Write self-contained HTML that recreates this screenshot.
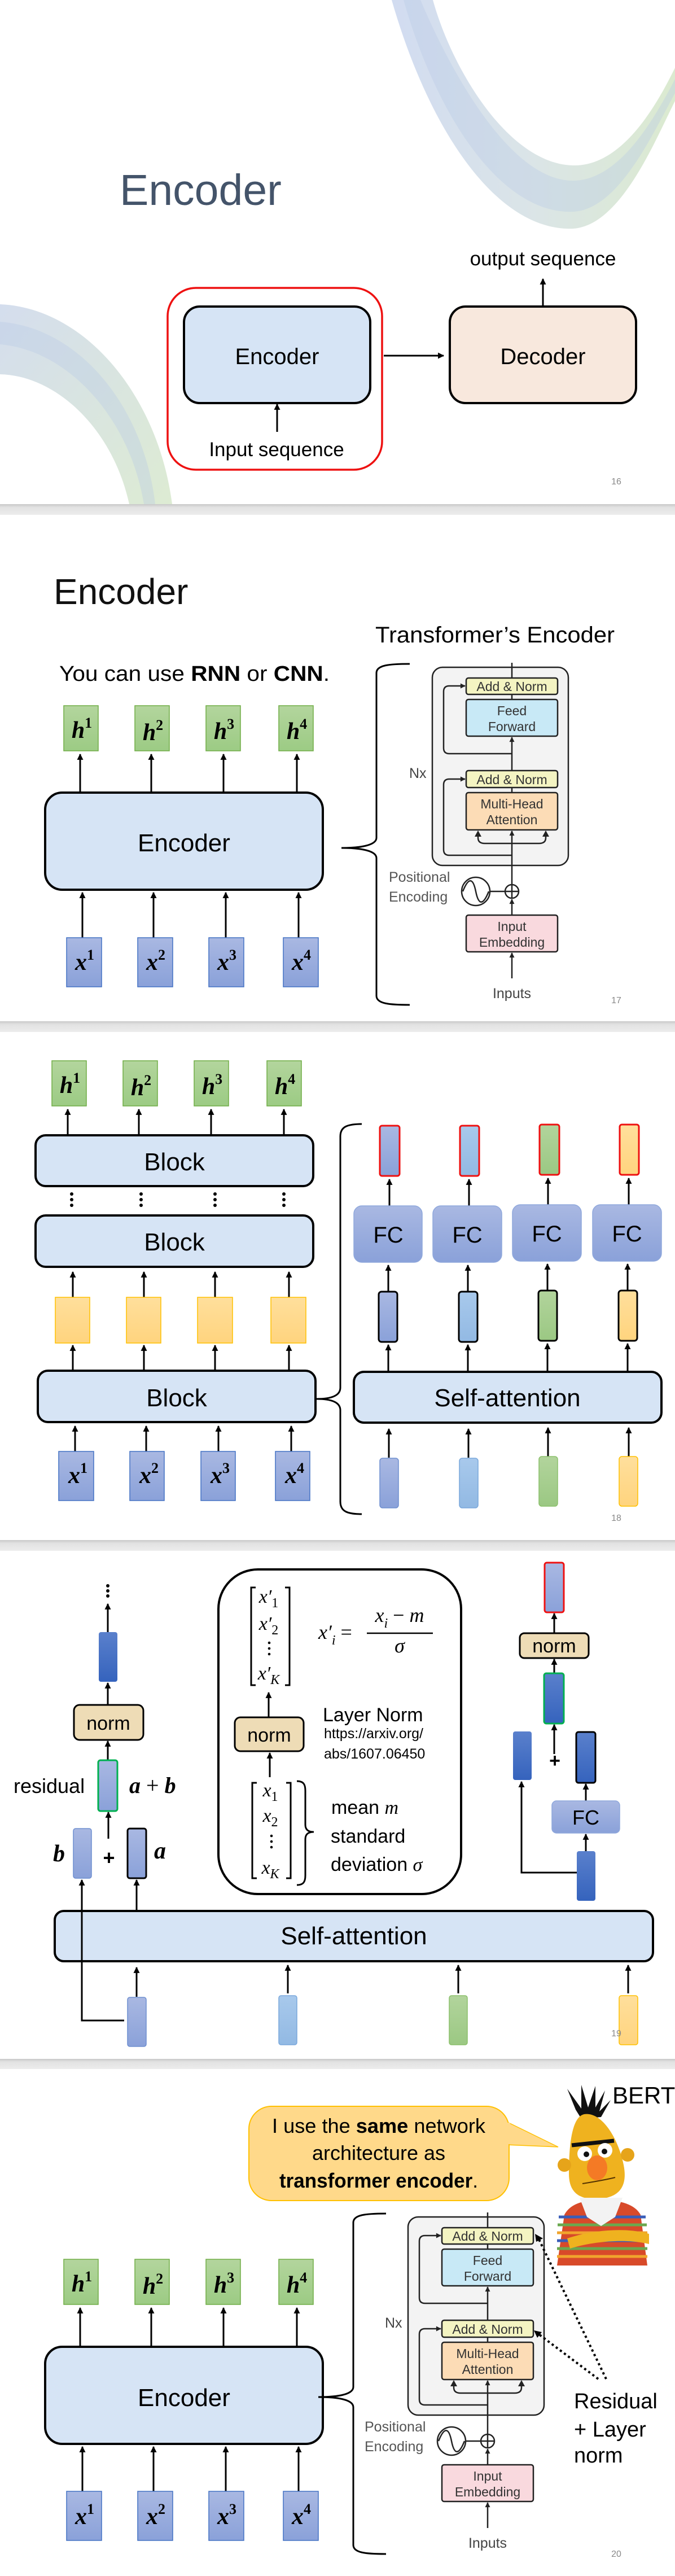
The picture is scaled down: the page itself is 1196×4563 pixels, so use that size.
<!DOCTYPE html>
<html><head><meta charset="utf-8"><style>
html,body{margin:0;padding:0;background:#fff}
svg{display:block}
.t{font-family:"Liberation Sans",sans-serif}
.m{font-family:"Liberation Serif",serif;font-style:italic;font-weight:bold}
.mi{font-family:"Liberation Serif",serif;font-style:italic}
.ar{stroke:#000;stroke-width:3;marker-end:url(#a);fill:none}
.ln{stroke:#000;stroke-width:3;fill:none}
.tl{stroke:#222;stroke-width:2.5;fill:none}
.tar{stroke:#222;stroke-width:2.5;fill:none;marker-end:url(#as)}
.tt{font-family:"Liberation Sans",sans-serif;fill:#333;font-size:23px;text-anchor:middle}
</style></head><body>
<svg width="1196" height="4563" viewBox="0 0 1196 4563" xmlns="http://www.w3.org/2000/svg">
<defs>
<marker id="a" viewBox="0 0 10 10" refX="9" refY="5" markerWidth="12" markerHeight="11" markerUnits="userSpaceOnUse" orient="auto"><path d="M0,0 L10,5 L0,10 z" fill="#000"/></marker>
<marker id="as" viewBox="0 0 10 10" refX="9" refY="5" markerWidth="10" markerHeight="9" markerUnits="userSpaceOnUse" orient="auto"><path d="M0,0 L10,5 L0,10 z" fill="#222"/></marker>
<linearGradient id="sw" x1="0" y1="0" x2="1" y2="0"><stop offset="0" stop-color="#c2d0ec"/><stop offset="0.5" stop-color="#cfdcdf"/><stop offset="1" stop-color="#cfe3c0"/></linearGradient>
<linearGradient id="sw2" x1="0" y1="0" x2="1" y2="1"><stop offset="0" stop-color="#c6d2e8"/><stop offset="1" stop-color="#d2e5c4"/></linearGradient>
<linearGradient id="bd" x1="0" y1="0" x2="0" y2="1"><stop offset="0" stop-color="#c8c8c8"/><stop offset="0.3" stop-color="#e2e2e2"/><stop offset="1" stop-color="#ececec"/></linearGradient>
<linearGradient id="gb" x1="0" y1="0" x2="0" y2="1"><stop offset="0" stop-color="#a9b8e2"/><stop offset="1" stop-color="#8aa1d9"/></linearGradient>
<linearGradient id="gd" x1="0" y1="0" x2="0" y2="1"><stop offset="0" stop-color="#5a80cc"/><stop offset="1" stop-color="#3563bd"/></linearGradient>
<linearGradient id="gl" x1="0" y1="0" x2="0" y2="1"><stop offset="0" stop-color="#a8c9ec"/><stop offset="1" stop-color="#92b9e3"/></linearGradient>
<linearGradient id="gg" x1="0" y1="0" x2="0" y2="1"><stop offset="0" stop-color="#b2d49c"/><stop offset="1" stop-color="#9bc883"/></linearGradient>
<linearGradient id="gy" x1="0" y1="0" x2="0" y2="1"><stop offset="0" stop-color="#ffdf9c"/><stop offset="1" stop-color="#ffd47e"/></linearGradient>
<linearGradient id="gh" x1="0" y1="0" x2="0" y2="1"><stop offset="0" stop-color="#b3d59d"/><stop offset="1" stop-color="#9ccb84"/></linearGradient>
</defs>

<rect x="0" y="893" width="1196" height="19" fill="url(#bd)"/>
<rect x="0" y="1809" width="1196" height="19" fill="url(#bd)"/>
<rect x="0" y="2728" width="1196" height="19" fill="url(#bd)"/>
<rect x="0" y="3647" width="1196" height="18" fill="url(#bd)"/>

<!-- ============ SLIDE 1 ============ -->
<g>
<path d="M694,0 C760,230 880,410 1015,405 C1100,400 1160,250 1196,179 L1196,120 C1150,215 1090,295 1015,293 C900,290 800,120 767,0 Z" fill="url(#sw)" opacity="0.75"/>
<path d="M715,0 C775,210 890,380 1015,375 C1095,372 1155,240 1196,165 L1196,140 C1150,230 1090,320 1015,320 C905,320 800,130 745,0 Z" fill="#b8c9e6" opacity="0.35"/>
<path d="M0,539 C150,545 280,700 305,893 L229,893 C200,760 100,665 0,663 Z" fill="url(#sw2)" opacity="0.75"/>
<path d="M0,570 C140,580 255,720 275,893 L255,893 C230,740 120,620 0,610 Z" fill="#b7c8e4" opacity="0.35"/>
<text class="t" x="212" y="363" font-size="77" fill="#44546a">Encoder</text>
<rect x="297" y="510" width="380" height="322" rx="50" fill="none" stroke="#ee1111" stroke-width="3.5"/>
<rect x="326" y="543" width="330" height="171" rx="28" fill="#d6e4f5" stroke="#000" stroke-width="4"/>
<text class="t" x="491" y="645" font-size="40" text-anchor="middle">Encoder</text>
<line class="ar" x1="491" y1="765" x2="491" y2="716"/>
<text class="t" x="490" y="808" font-size="35" text-anchor="middle">Input sequence</text>
<line class="ar" x1="680" y1="630" x2="786" y2="630"/>
<rect x="797" y="543" width="330" height="171" rx="28" fill="#f8e8dd" stroke="#000" stroke-width="4"/>
<text class="t" x="962" y="645" font-size="40" text-anchor="middle">Decoder</text>
<line class="ar" x1="962" y1="543" x2="962" y2="494"/>
<text class="t" x="962" y="470" font-size="35" text-anchor="middle">output sequence</text>
<text class="t" x="1092" y="858" font-size="16" fill="#888" text-anchor="middle">16</text>
</g>

<!-- ============ SLIDE 2 ============ -->
<g transform="translate(0,912)">
<text class="t" x="95" y="158" font-size="64" fill="#111">Encoder</text>
<text class="t" x="665" y="226" font-size="40" textLength="424" lengthAdjust="spacingAndGlyphs">Transformer’s Encoder</text>
<text class="t" x="105" y="294" font-size="38" textLength="479" lengthAdjust="spacingAndGlyphs">You can use <tspan font-weight="bold">RNN</tspan> or <tspan font-weight="bold">CNN</tspan>.</text>
<g fill="url(#gh)" stroke="#70ad47" stroke-width="1.5">
<rect x="113" y="338" width="61" height="80"/><rect x="239" y="338" width="61" height="80"/><rect x="365" y="338" width="61" height="80"/><rect x="494" y="338" width="61" height="80"/>
</g>
<g class="m" font-size="42" text-anchor="middle">
<text x="145" y="395">h<tspan font-size="26" font-style="normal" dy="-18">1</tspan></text>
<text x="271" y="399">h<tspan font-size="26" font-style="normal" dy="-18">2</tspan></text>
<text x="397" y="397">h<tspan font-size="26" font-style="normal" dy="-18">3</tspan></text>
<text x="526" y="397">h<tspan font-size="26" font-style="normal" dy="-18">4</tspan></text>
</g>
<line class="ar" x1="142" y1="492" x2="142" y2="424"/><line class="ar" x1="268" y1="492" x2="268" y2="424"/><line class="ar" x1="396" y1="492" x2="396" y2="424"/><line class="ar" x1="526" y1="492" x2="526" y2="424"/>
<rect x="80" y="492" width="492" height="172" rx="30" fill="#d6e4f5" stroke="#000" stroke-width="4"/>
<text class="t" x="326" y="596" font-size="44" text-anchor="middle">Encoder</text>
<line class="ar" x1="146" y1="749" x2="146" y2="669"/><line class="ar" x1="272" y1="749" x2="272" y2="669"/><line class="ar" x1="400" y1="749" x2="400" y2="669"/><line class="ar" x1="529" y1="749" x2="529" y2="669"/>
<g fill="url(#gb)" stroke="#4472c4" stroke-width="1.5">
<rect x="118" y="749" width="62" height="87"/><rect x="244" y="749" width="62" height="87"/><rect x="370" y="749" width="62" height="87"/><rect x="502" y="749" width="62" height="87"/>
</g>
<g class="m" font-size="42" text-anchor="middle">
<text x="150" y="806">x<tspan font-size="26" font-style="normal" dy="-18">1</tspan></text>
<text x="276" y="806">x<tspan font-size="26" font-style="normal" dy="-18">2</tspan></text>
<text x="402" y="806">x<tspan font-size="26" font-style="normal" dy="-18">3</tspan></text>
<text x="534" y="806">x<tspan font-size="26" font-style="normal" dy="-18">4</tspan></text>
</g>
<path class="ln" d="M726,264 C690,264 667,266 667,280 L667,572 C667,585 640,590 605,590 C640,590 667,595 667,608 L667,852 C667,866 690,868 726,868"/>
<g transform="translate(766,270)">
<rect x="0" y="0" width="241" height="351" rx="18" fill="#f3f3f3" stroke="#222" stroke-width="2.5"/>
<line class="tl" x1="141" y1="-8" x2="141" y2="19"/>
<rect x="60" y="19" width="162" height="29" rx="4" fill="#f4f4c2" stroke="#222" stroke-width="2.5"/>
<text class="tt" x="141" y="42">Add &amp; Norm</text>
<line class="tl" x1="141" y1="48" x2="141" y2="57"/>
<rect x="60" y="57" width="162" height="65" rx="4" fill="#c8e9f6" stroke="#222" stroke-width="2.5"/>
<text class="tt" x="141" y="85">Feed</text><text class="tt" x="141" y="113">Forward</text>
<line class="tar" x1="141" y1="183" x2="141" y2="124"/>
<path class="tar" d="M141,153 H30 Q20,153 20,143 V43 Q20,33 30,33 H58"/>
<rect x="60" y="183" width="162" height="30" rx="4" fill="#f4f4c2" stroke="#222" stroke-width="2.5"/>
<text class="tt" x="141" y="207">Add &amp; Norm</text>
<line class="tl" x1="141" y1="213" x2="141" y2="222"/>
<rect x="60" y="222" width="162" height="66" rx="4" fill="#fcdcb6" stroke="#222" stroke-width="2.5"/>
<text class="tt" x="141" y="250">Multi-Head</text><text class="tt" x="141" y="278">Attention</text>
<line class="tar" x1="141" y1="385" x2="141" y2="290"/>
<path class="tl" d="M81,298 V302 Q81,312 93,312 H189 Q201,312 201,302 V298"/>
<path d="M75,300 L81,289 L87,300 Z M195,300 L201,289 L207,300 Z" fill="#222"/>
<path class="tar" d="M141,333 H30 Q20,333 20,323 V208 Q20,198 30,198 H58"/>
<circle cx="141" cy="397" r="12" fill="#fff" stroke="#222" stroke-width="2.5"/>
<path class="tl" d="M129,397 H153 M141,385 V409"/>
<circle cx="77" cy="397" r="25" fill="#fff" stroke="#222" stroke-width="2.5"/>
<path class="tl" d="M54,397 C64,372 72,372 77,397 C82,422 90,422 100,397"/>
<line class="tl" x1="102" y1="397" x2="129" y2="397"/>
<line class="tar" x1="141" y1="439" x2="141" y2="411"/>
<rect x="60" y="439" width="162" height="65" rx="4" fill="#f9d9de" stroke="#222" stroke-width="2.5"/>
<text class="tt" x="141" y="467">Input</text><text class="tt" x="141" y="495">Embedding</text>
<line class="tar" x1="141" y1="551" x2="141" y2="506"/>
<text class="t" x="141" y="586" font-size="25" fill="#444" text-anchor="middle">Inputs</text>
<text class="t" x="-77" y="380" font-size="25" fill="#555">Positional</text>
<text class="t" x="-77" y="415" font-size="25" fill="#555">Encoding</text>
<text class="t" x="-41" y="196" font-size="25" fill="#444">Nx</text>
</g>
<text class="t" x="1092" y="865" font-size="16" fill="#888" text-anchor="middle">17</text>
</g>

<!-- ============ SLIDE 3 ============ -->
<g transform="translate(0,1828)">
<g fill="url(#gh)" stroke="#70ad47" stroke-width="1.5">
<rect x="92" y="51" width="61" height="80"/><rect x="218" y="51" width="61" height="80"/><rect x="344" y="51" width="61" height="80"/><rect x="473" y="51" width="61" height="80"/>
</g>
<g class="m" font-size="42" text-anchor="middle">
<text x="124" y="108">h<tspan font-size="26" font-style="normal" dy="-18">1</tspan></text>
<text x="250" y="112">h<tspan font-size="26" font-style="normal" dy="-18">2</tspan></text>
<text x="376" y="110">h<tspan font-size="26" font-style="normal" dy="-18">3</tspan></text>
<text x="505" y="110">h<tspan font-size="26" font-style="normal" dy="-18">4</tspan></text>
</g>
<line class="ar" x1="120" y1="183" x2="120" y2="137"/><line class="ar" x1="246" y1="183" x2="246" y2="137"/><line class="ar" x1="374" y1="183" x2="374" y2="137"/><line class="ar" x1="503" y1="183" x2="503" y2="137"/>
<rect x="63" y="183" width="492" height="90" rx="18" fill="#d6e4f5" stroke="#000" stroke-width="4"/>
<text class="t" x="309" y="245" font-size="44" text-anchor="middle">Block</text>
<g fill="#000"><circle cx="127" cy="287" r="3"/><circle cx="127" cy="297" r="3"/><circle cx="127" cy="307" r="3"/>
<circle cx="250" cy="287" r="3"/><circle cx="250" cy="297" r="3"/><circle cx="250" cy="307" r="3"/>
<circle cx="381" cy="287" r="3"/><circle cx="381" cy="297" r="3"/><circle cx="381" cy="307" r="3"/>
<circle cx="503" cy="287" r="3"/><circle cx="503" cy="297" r="3"/><circle cx="503" cy="307" r="3"/></g>
<rect x="63" y="325" width="492" height="91" rx="18" fill="#d6e4f5" stroke="#000" stroke-width="4"/>
<text class="t" x="309" y="387" font-size="44" text-anchor="middle">Block</text>
<line class="ar" x1="129" y1="470" x2="129" y2="425"/><line class="ar" x1="255" y1="470" x2="255" y2="425"/><line class="ar" x1="381" y1="470" x2="381" y2="425"/><line class="ar" x1="512" y1="470" x2="512" y2="425"/>
<g fill="url(#gy)" stroke="#ffc000" stroke-width="1.5">
<rect x="98" y="470" width="61" height="81"/><rect x="224" y="470" width="61" height="81"/><rect x="350" y="470" width="62" height="81"/><rect x="480" y="470" width="62" height="81"/>
</g>
<line class="ar" x1="129" y1="600" x2="129" y2="555"/><line class="ar" x1="255" y1="600" x2="255" y2="555"/><line class="ar" x1="381" y1="600" x2="381" y2="555"/><line class="ar" x1="512" y1="600" x2="512" y2="555"/>
<rect x="67" y="600" width="492" height="91" rx="18" fill="#d6e4f5" stroke="#000" stroke-width="4"/>
<text class="t" x="313" y="663" font-size="44" text-anchor="middle">Block</text>
<line class="ar" x1="133" y1="743" x2="133" y2="698"/><line class="ar" x1="259" y1="743" x2="259" y2="698"/><line class="ar" x1="387" y1="743" x2="387" y2="698"/><line class="ar" x1="516" y1="743" x2="516" y2="698"/>
<g fill="url(#gb)" stroke="#4472c4" stroke-width="1.5">
<rect x="104" y="743" width="62" height="87"/><rect x="230" y="743" width="61" height="87"/><rect x="356" y="743" width="61" height="87"/><rect x="488" y="743" width="61" height="87"/>
</g>
<g class="m" font-size="42" text-anchor="middle">
<text x="138" y="799">x<tspan font-size="26" font-style="normal" dy="-18">1</tspan></text>
<text x="264" y="799">x<tspan font-size="26" font-style="normal" dy="-18">2</tspan></text>
<text x="390" y="799">x<tspan font-size="26" font-style="normal" dy="-18">3</tspan></text>
<text x="522" y="799">x<tspan font-size="26" font-style="normal" dy="-18">4</tspan></text>
</g>
<path class="ln" d="M641,163 C615,163 603,168 603,185 L603,630 C603,645 585,650 561,650 C585,650 603,655 603,670 L603,832 C603,849 615,854 641,854"/>
<rect x="673" y="166" width="35" height="89" rx="4" fill="url(#gb)" stroke="#ee1111" stroke-width="3"/>
<rect x="815" y="166" width="34" height="89" rx="4" fill="url(#gl)" stroke="#ee1111" stroke-width="3"/>
<rect x="956" y="164" width="35" height="89" rx="4" fill="url(#gg)" stroke="#ee1111" stroke-width="3"/>
<rect x="1098" y="164" width="34" height="89" rx="4" fill="url(#gy)" stroke="#ee1111" stroke-width="3"/>
<line class="ar" x1="690" y1="308" x2="690" y2="261"/><line class="ar" x1="831" y1="308" x2="831" y2="261"/><line class="ar" x1="971" y1="306" x2="971" y2="259"/><line class="ar" x1="1114" y1="306" x2="1114" y2="259"/>
<g fill="url(#gb)" stroke="#8fa8dc" stroke-width="1.5">
<rect x="627" y="308" width="121" height="100" rx="14"/><rect x="767" y="308" width="122" height="100" rx="14"/><rect x="908" y="306" width="122" height="100" rx="14"/><rect x="1050" y="306" width="122" height="100" rx="14"/>
</g>
<g class="t" font-size="40" text-anchor="middle"><text x="688" y="373">FC</text><text x="828" y="373">FC</text><text x="969" y="371">FC</text><text x="1111" y="371">FC</text></g>
<line class="ar" x1="688" y1="460" x2="688" y2="413"/><line class="ar" x1="829" y1="460" x2="829" y2="413"/><line class="ar" x1="970" y1="458" x2="970" y2="411"/><line class="ar" x1="1112" y1="458" x2="1112" y2="411"/>
<rect x="671" y="460" width="33" height="89" rx="5" fill="url(#gb)" stroke="#000" stroke-width="3"/>
<rect x="813" y="460" width="33" height="89" rx="5" fill="url(#gl)" stroke="#000" stroke-width="3"/>
<rect x="954" y="458" width="33" height="89" rx="5" fill="url(#gg)" stroke="#000" stroke-width="3"/>
<rect x="1096" y="458" width="33" height="89" rx="5" fill="url(#gy)" stroke="#000" stroke-width="3"/>
<line class="ar" x1="688" y1="602" x2="688" y2="554"/><line class="ar" x1="829" y1="602" x2="829" y2="554"/><line class="ar" x1="970" y1="600" x2="970" y2="552"/><line class="ar" x1="1112" y1="600" x2="1112" y2="552"/>
<rect x="627" y="602" width="545" height="90" rx="18" fill="#d6e4f5" stroke="#000" stroke-width="4"/>
<text class="t" x="899" y="663" font-size="44" text-anchor="middle">Self-attention</text>
<line class="ar" x1="689" y1="754" x2="689" y2="703"/><line class="ar" x1="830" y1="754" x2="830" y2="703"/><line class="ar" x1="971" y1="752" x2="971" y2="701"/><line class="ar" x1="1114" y1="752" x2="1114" y2="701"/>
<rect x="673" y="755" width="33" height="88" rx="5" fill="url(#gb)" stroke="#6f8fd0" stroke-width="1.5"/>
<rect x="814" y="755" width="33" height="88" rx="5" fill="url(#gl)" stroke="#7aa8dc" stroke-width="1.5"/>
<rect x="955" y="752" width="33" height="88" rx="5" fill="url(#gg)" stroke="#8cc06c" stroke-width="1.5"/>
<rect x="1097" y="752" width="33" height="88" rx="5" fill="url(#gy)" stroke="#ffc000" stroke-width="1.5"/>
<text class="t" x="1092" y="866" font-size="16" fill="#888" text-anchor="middle">18</text>
</g>

<!-- ============ SLIDE 4 ============ -->
<g transform="translate(0,2747)">
<g fill="#000"><circle cx="191" cy="62" r="3"/><circle cx="191" cy="71" r="3"/><circle cx="191" cy="80" r="3"/></g>
<line class="ar" x1="191" y1="144" x2="191" y2="94"/>
<rect x="175" y="144" width="33" height="88" rx="4" fill="url(#gd)"/>
<line class="ar" x1="191" y1="273" x2="191" y2="234"/>
<rect x="131" y="273" width="123" height="62" rx="10" fill="#eedcb6" stroke="#000" stroke-width="3"/>
<text class="t" x="192" y="317" font-size="34" text-anchor="middle">norm</text>
<line class="ar" x1="191" y1="371" x2="191" y2="337"/>
<rect x="174" y="371" width="34" height="90" rx="4" fill="url(#gb)" stroke="#00b050" stroke-width="3"/>
<text class="t" x="24" y="429" font-size="36">residual</text>
<text class="m" x="229" y="429" font-size="40">a<tspan font-style="normal" font-weight="normal"> + </tspan>b</text>
<line class="ar" x1="192" y1="510" x2="192" y2="463"/>
<rect x="130" y="492" width="32" height="88" rx="4" fill="url(#gb)" stroke="#6f8fd0" stroke-width="1.5"/>
<text class="m" x="94" y="550" font-size="42">b</text>
<text class="t" x="193" y="556" font-size="36" font-weight="bold" text-anchor="middle">+</text>
<rect x="226" y="492" width="33" height="88" rx="4" fill="url(#gb)" stroke="#000" stroke-width="3"/>
<text class="m" x="273" y="545" font-size="42">a</text>
<line class="ar" x1="242" y1="638" x2="242" y2="583"/>
<path class="ar" d="M220,832 H145 V583"/>
<rect x="97" y="638" width="1060" height="89" rx="16" fill="#d6e4f5" stroke="#000" stroke-width="4"/>
<line class="ln" x1="145" y1="640" x2="145" y2="725"/>
<text class="t" x="627" y="697" font-size="44" text-anchor="middle">Self-attention</text>
<line class="ar" x1="242" y1="790" x2="242" y2="738"/><line class="ar" x1="510" y1="784" x2="510" y2="734"/><line class="ar" x1="812" y1="784" x2="812" y2="734"/><line class="ar" x1="1113" y1="784" x2="1113" y2="734"/>
<rect x="226" y="791" width="33" height="87" rx="4" fill="url(#gb)" stroke="#6f8fd0" stroke-width="1.5"/>
<rect x="494" y="788" width="32" height="87" rx="4" fill="url(#gl)" stroke="#7aa8dc" stroke-width="1.5"/>
<rect x="796" y="788" width="32" height="87" rx="4" fill="url(#gg)" stroke="#8cc06c" stroke-width="1.5"/>
<rect x="1097" y="788" width="33" height="87" rx="4" fill="url(#gy)" stroke="#ffc000" stroke-width="1.5"/>
<rect x="387" y="33" width="430" height="575" rx="70" fill="#fff" stroke="#000" stroke-width="4"/>
<path class="ln" d="M453,65 H445 V238 H453 M505,65 H513 V238 H505" stroke-width="2"/>
<g class="mi" font-size="34" text-anchor="middle">
<text x="476" y="92">x′<tspan font-size="24" font-style="normal" dy="8">1</tspan></text>
<text x="476" y="140">x′<tspan font-size="24" font-style="normal" dy="8">2</tspan></text>
<text x="476" y="228">x′<tspan font-size="24" dy="8">K</tspan></text>
</g>
<g fill="#000"><circle cx="477" cy="163" r="2.3"/><circle cx="477" cy="173" r="2.3"/><circle cx="477" cy="183" r="2.3"/></g>
<text class="mi" x="564" y="156" font-size="36">x′<tspan font-size="24" dy="10">i</tspan><tspan dy="-10" font-style="normal"> =</tspan></text>
<text class="mi" x="708" y="126" font-size="36" text-anchor="middle">x<tspan font-size="24" dy="10">i</tspan><tspan dy="-10" font-style="normal"> − </tspan>m</text>
<line x1="650" y1="146" x2="767" y2="146" stroke="#000" stroke-width="2.5"/>
<text class="mi" x="708" y="180" font-size="36" text-anchor="middle">σ</text>
<line class="ar" x1="476" y1="295" x2="476" y2="251"/>
<rect x="416" y="295" width="122" height="60" rx="10" fill="#eedcb6" stroke="#000" stroke-width="3"/>
<text class="t" x="477" y="338" font-size="34" text-anchor="middle">norm</text>
<text class="t" x="572" y="302" font-size="34">Layer Norm</text>
<text class="t" x="574" y="332" font-size="25">https://arxiv.org/</text>
<text class="t" x="574" y="368" font-size="25">abs/1607.06450</text>
<line class="ar" x1="478" y1="401" x2="478" y2="358"/>
<path class="ln" d="M455,411 H447 V580 H455 M507,411 H515 V580 H507" stroke-width="2"/>
<g class="mi" font-size="34" text-anchor="middle">
<text x="479" y="435">x<tspan font-size="24" font-style="normal" dy="8">1</tspan></text>
<text x="479" y="480">x<tspan font-size="24" font-style="normal" dy="8">2</tspan></text>
<text x="479" y="572">x<tspan font-size="24" dy="8">K</tspan></text>
</g>
<g fill="#000"><circle cx="481" cy="505" r="2.3"/><circle cx="481" cy="515" r="2.3"/><circle cx="481" cy="525" r="2.3"/></g>
<path class="ln" stroke-width="2.5" d="M526,408 C538,408 541,414 541,425 L541,485 C541,494 546,498 556,498 C546,498 541,502 541,511 L541,575 C541,586 538,592 526,592"/>
<text class="t" x="587" y="466" font-size="34">mean <tspan class="mi">m</tspan></text>
<text class="t" x="586" y="517" font-size="34">standard</text>
<text class="t" x="586" y="567" font-size="34">deviation <tspan class="mi">σ</tspan></text>
<rect x="965" y="21" width="34" height="88" rx="4" fill="url(#gb)" stroke="#ee1111" stroke-width="3"/>
<line class="ar" x1="982" y1="146" x2="982" y2="111"/>
<rect x="921" y="146" width="122" height="44" rx="8" fill="#eedcb6" stroke="#000" stroke-width="3"/>
<text class="t" x="982" y="180" font-size="34" text-anchor="middle">norm</text>
<line class="ar" x1="982" y1="217" x2="982" y2="192"/>
<rect x="964" y="217" width="35" height="89" rx="4" fill="url(#gd)" stroke="#00b050" stroke-width="3"/>
<line class="ar" x1="982" y1="360" x2="982" y2="308"/>
<text class="t" x="983" y="383" font-size="34" font-weight="bold" text-anchor="middle">+</text>
<rect x="909" y="320" width="33" height="86" rx="4" fill="url(#gd)"/>
<rect x="1021" y="321" width="34" height="90" rx="4" fill="url(#gd)" stroke="#000" stroke-width="3"/>
<line class="ar" x1="1038" y1="443" x2="1038" y2="413"/>
<rect x="978" y="443" width="120" height="57" rx="8" fill="url(#gb)" stroke="#8fa8dc" stroke-width="1.5"/>
<text class="t" x="1038" y="485" font-size="36" text-anchor="middle">FC</text>
<line class="ar" x1="1038" y1="532" x2="1038" y2="502"/>
<rect x="1022" y="532" width="33" height="88" rx="4" fill="url(#gd)"/>
<path class="ar" d="M1022,570 H924 V409"/>
<text class="t" x="1092" y="860" font-size="16" fill="#888" text-anchor="middle">19</text>
</g>

<!-- ============ SLIDE 5 ============ -->
<g transform="translate(0,3665)">
<g>
<path d="M1000,40 L1020,72 L1005,35 L1030,70 L1030,28 L1042,68 L1055,30 L1055,68 L1072,38 L1062,75 L1082,55 L1065,85 L1030,88 Z" fill="#111"/>
<path d="M1035,80 C1065,75 1095,120 1105,170 C1112,205 1100,228 1060,230 C1022,232 1008,215 1008,185 C1008,140 1012,85 1035,80 Z" fill="#efb21f"/>
<circle cx="1000" cy="170" r="12" fill="#e6a41a"/><circle cx="1112" cy="152" r="12" fill="#e6a41a"/>
<path d="M1013,135 L1088,127" stroke="#111" stroke-width="7"/>
<circle cx="1036" cy="150" r="13" fill="#fff"/><circle cx="1072" cy="144" r="13" fill="#fff"/>
<circle cx="1039" cy="151" r="5" fill="#111"/><circle cx="1071" cy="146" r="5" fill="#111"/>
<ellipse cx="1058" cy="175" rx="18" ry="22" fill="#f47a25"/>
<path d="M1032,203 C1050,200 1070,197 1090,192" stroke="#553300" stroke-width="2" fill="none"/>
<path d="M1000,258 C1010,240 1030,232 1065,232 C1100,232 1125,240 1135,258 L1147,348 L987,348 Z" fill="#d84a2a"/>
<g stroke-width="5">
<line x1="990" y1="262" x2="1144" y2="262" stroke="#3a5db8"/><line x1="988" y1="276" x2="1146" y2="276" stroke="#6aa84f"/>
<line x1="987" y1="290" x2="1147" y2="290" stroke="#f1a42c"/><line x1="987" y1="304" x2="1147" y2="304" stroke="#3a5db8"/>
<line x1="987" y1="318" x2="1147" y2="318" stroke="#6aa84f"/><line x1="987" y1="332" x2="1147" y2="332" stroke="#f1a42c"/>
</g>
<path d="M1027,228 L1103,228 L1090,262 L1065,278 L1040,262 Z" fill="#f3f3f3"/>
<path d="M1005,300 C1050,285 1110,280 1150,292 L1150,310 C1110,300 1050,305 1010,318 Z" fill="#efb21f"/>
</g>
<text class="t" x="1085" y="61" font-size="42">BERT</text>
<path d="M895,92 L989,138 L895,134 Z" fill="#ffd98a" stroke="#ffc000" stroke-width="1.5"/>
<rect x="441" y="66" width="461" height="167" rx="40" fill="#ffd98a" stroke="#ffc000" stroke-width="2"/>
<rect x="890" y="95" width="14" height="38" fill="#ffd98a"/>
<g class="t" font-size="36" text-anchor="middle">
<text x="671" y="113" textLength="378" lengthAdjust="spacingAndGlyphs">I use the <tspan font-weight="bold">same</tspan> network</text>
<text x="671" y="161">architecture as</text>
<text x="671" y="210" font-weight="bold" textLength="352" lengthAdjust="spacingAndGlyphs">transformer encoder<tspan font-weight="normal">.</tspan></text>
</g>
<g fill="url(#gh)" stroke="#70ad47" stroke-width="1.5">
<rect x="113" y="337" width="61" height="80"/><rect x="239" y="337" width="61" height="80"/><rect x="365" y="337" width="61" height="80"/><rect x="494" y="337" width="61" height="80"/>
</g>
<g class="m" font-size="42" text-anchor="middle">
<text x="145" y="394">h<tspan font-size="26" font-style="normal" dy="-18">1</tspan></text>
<text x="271" y="398">h<tspan font-size="26" font-style="normal" dy="-18">2</tspan></text>
<text x="397" y="396">h<tspan font-size="26" font-style="normal" dy="-18">3</tspan></text>
<text x="526" y="396">h<tspan font-size="26" font-style="normal" dy="-18">4</tspan></text>
</g>
<line class="ar" x1="142" y1="492" x2="142" y2="423"/><line class="ar" x1="268" y1="492" x2="268" y2="423"/><line class="ar" x1="396" y1="492" x2="396" y2="423"/><line class="ar" x1="526" y1="492" x2="526" y2="423"/>
<rect x="80" y="492" width="492" height="172" rx="30" fill="#d6e4f5" stroke="#000" stroke-width="4"/>
<text class="t" x="326" y="597" font-size="44" text-anchor="middle">Encoder</text>
<line class="ar" x1="146" y1="748" x2="146" y2="669"/><line class="ar" x1="272" y1="748" x2="272" y2="669"/><line class="ar" x1="400" y1="748" x2="400" y2="669"/><line class="ar" x1="529" y1="748" x2="529" y2="669"/>
<g fill="url(#gb)" stroke="#4472c4" stroke-width="1.5">
<rect x="118" y="748" width="62" height="87"/><rect x="244" y="748" width="62" height="87"/><rect x="370" y="748" width="62" height="87"/><rect x="502" y="748" width="62" height="87"/>
</g>
<g class="m" font-size="42" text-anchor="middle">
<text x="150" y="806">x<tspan font-size="26" font-style="normal" dy="-18">1</tspan></text>
<text x="276" y="806">x<tspan font-size="26" font-style="normal" dy="-18">2</tspan></text>
<text x="402" y="806">x<tspan font-size="26" font-style="normal" dy="-18">3</tspan></text>
<text x="534" y="806">x<tspan font-size="26" font-style="normal" dy="-18">4</tspan></text>
</g>
<path class="ln" d="M684,256 C648,256 626,258 626,272 L626,563 C626,576 600,581 564,581 C600,581 626,586 626,599 L626,843 C626,857 648,859 684,859"/>
<g transform="translate(723,262)">
<rect x="0" y="0" width="241" height="351" rx="18" fill="#f3f3f3" stroke="#222" stroke-width="2.5"/>
<line class="tl" x1="141" y1="-8" x2="141" y2="19"/>
<rect x="60" y="19" width="162" height="29" rx="4" fill="#f4f4c2" stroke="#222" stroke-width="2.5"/>
<text class="tt" x="141" y="42">Add &amp; Norm</text>
<line class="tl" x1="141" y1="48" x2="141" y2="57"/>
<rect x="60" y="57" width="162" height="65" rx="4" fill="#c8e9f6" stroke="#222" stroke-width="2.5"/>
<text class="tt" x="141" y="85">Feed</text><text class="tt" x="141" y="113">Forward</text>
<line class="tar" x1="141" y1="183" x2="141" y2="124"/>
<path class="tar" d="M141,153 H30 Q20,153 20,143 V43 Q20,33 30,33 H58"/>
<rect x="60" y="183" width="162" height="30" rx="4" fill="#f4f4c2" stroke="#222" stroke-width="2.5"/>
<text class="tt" x="141" y="207">Add &amp; Norm</text>
<line class="tl" x1="141" y1="213" x2="141" y2="222"/>
<rect x="60" y="222" width="162" height="66" rx="4" fill="#fcdcb6" stroke="#222" stroke-width="2.5"/>
<text class="tt" x="141" y="250">Multi-Head</text><text class="tt" x="141" y="278">Attention</text>
<line class="tar" x1="141" y1="385" x2="141" y2="290"/>
<path class="tl" d="M81,298 V302 Q81,312 93,312 H189 Q201,312 201,302 V298"/>
<path d="M75,300 L81,289 L87,300 Z M195,300 L201,289 L207,300 Z" fill="#222"/>
<path class="tar" d="M141,333 H30 Q20,333 20,323 V208 Q20,198 30,198 H58"/>
<circle cx="141" cy="397" r="12" fill="#fff" stroke="#222" stroke-width="2.5"/>
<path class="tl" d="M129,397 H153 M141,385 V409"/>
<circle cx="77" cy="397" r="25" fill="#fff" stroke="#222" stroke-width="2.5"/>
<path class="tl" d="M54,397 C64,372 72,372 77,397 C82,422 90,422 100,397"/>
<line class="tl" x1="102" y1="397" x2="129" y2="397"/>
<line class="tar" x1="141" y1="439" x2="141" y2="411"/>
<rect x="60" y="439" width="162" height="65" rx="4" fill="#f9d9de" stroke="#222" stroke-width="2.5"/>
<text class="tt" x="141" y="467">Input</text><text class="tt" x="141" y="495">Embedding</text>
<line class="tar" x1="141" y1="551" x2="141" y2="506"/>
<text class="t" x="141" y="586" font-size="25" fill="#444" text-anchor="middle">Inputs</text>
<text class="t" x="-77" y="380" font-size="25" fill="#555">Positional</text>
<text class="t" x="-77" y="415" font-size="25" fill="#555">Encoding</text>
<text class="t" x="-41" y="196" font-size="25" fill="#444">Nx</text>
</g>
<line x1="1074" y1="549" x2="955" y2="302" stroke="#000" stroke-width="4" stroke-dasharray="4,5"/>
<line x1="1060" y1="549" x2="955" y2="470" stroke="#000" stroke-width="4" stroke-dasharray="4,5"/>
<path d="M948,292 L962,300 L950,306 Z M946,463 L960,466 L952,476 Z" fill="#000"/>
<text class="t" x="1017" y="601" font-size="38">Residual</text>
<text class="t" x="1017" y="651" font-size="38">+ Layer</text>
<text class="t" x="1017" y="697" font-size="38">norm</text>
<text class="t" x="1092" y="864" font-size="16" fill="#888" text-anchor="middle">20</text>
</g>
</svg>
</body></html>
